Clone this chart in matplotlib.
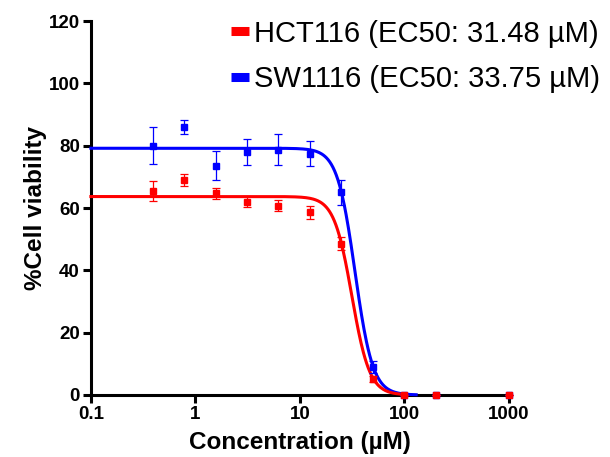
import numpy as np
import matplotlib
matplotlib.use("Agg")
import matplotlib.pyplot as plt
from matplotlib.lines import Line2D

plt.rcParams['font.family'] = ['Liberation Sans', 'DejaVu Sans']

# concentrations (uM)
conc = [0.39, 0.78, 1.56, 3.125, 6.25, 12.5, 25, 50, 100, 200, 1000]

# HCT116
hct_mean = [65.5, 69.0, 64.7, 62.0, 60.8, 58.6, 48.6, 5.1, 0, 0, 0]
hct_err = [3.2, 2.0, 1.8, 1.8, 1.8, 2.2, 2.0, 1.0, 0, 0, 0]
hct_fit = {"top": 63.7, "bottom": 0.0, "ec50": 31.48, "hill": 5.1}

# SW1116
sw_mean = [80.0, 86.1, 73.6, 78.0, 78.8, 77.4, 65.0, 9.0, 0, 0, 0]
sw_err = [6.0, 2.3, 4.6, 4.2, 5.0, 4.0, 4.0, 2.0, 0, 0, 0]
sw_fit = {"top": 79.2, "bottom": 0.0, "ec50": 33.75, "hill": 5.1}

labels = ["HCT116 (EC50: 31.48 \u00b5M)", "SW1116 (EC50: 33.75 \u00b5M)"]
RED = "#ff0000"
BLUE = "#0000ff"


def hill(x, p):
    return p["bottom"] + (p["top"] - p["bottom"]) / (1 + (x / p["ec50"]) ** p["hill"])


fig = plt.figure(figsize=(6.1, 4.57), dpi=100)
ax = fig.add_axes([0.149, 0.1357, 0.685, 0.818])

# fitted curves
xs_blue = np.logspace(-1, np.log10(130), 400)
xs_red = np.logspace(-1, 2, 400)
ax.plot(xs_blue, hill(xs_blue, sw_fit), color=BLUE, lw=2.2, zorder=3, clip_on=False)
ax.plot(xs_red, hill(xs_red, hct_fit), color=RED, lw=2.2, zorder=4, clip_on=False)

# data points
ax.errorbar(conc, sw_mean, yerr=sw_err, fmt='s', color=BLUE, ms=4.5, capsize=3,
            elinewidth=0.9, capthick=0.9, zorder=5, clip_on=False)
ax.errorbar(conc, hct_mean, yerr=hct_err, fmt='s', color=RED, ms=4.5, capsize=3,
            elinewidth=0.9, capthick=0.9, zorder=6, clip_on=False)

ax.set_xscale('log')
ax.set_xlim(0.1, 1000)
ax.set_ylim(0, 120)
ax.set_xticks([0.1, 1, 10, 100, 1000])
ax.set_xticklabels(["0.1", "1", "10", "100", "1000"])
ax.set_yticks([0, 20, 40, 60, 80, 100, 120])
ax.minorticks_off()

for s in ['top', 'right']:
    ax.spines[s].set_visible(False)
for s in ['left', 'bottom']:
    ax.spines[s].set_linewidth(2.2)

ax.tick_params(axis='both', direction='out', length=6, width=2.2, labelsize=13.5, pad=2)
for t in ax.get_xticklabels() + ax.get_yticklabels():
    t.set_fontweight('bold')

ax.set_xlabel("Concentration (\u00b5M)", fontsize=17.5, fontweight='bold', labelpad=5.5)
ax.set_ylabel("%Cell viability", fontsize=17.5, fontweight='bold', labelpad=1)

handles = [Line2D([0], [0], color=RED, lw=6.5, solid_capstyle='butt'),
           Line2D([0], [0], color=BLUE, lw=6.5, solid_capstyle='butt')]
fig.legend(handles, labels, loc='upper right', bbox_to_anchor=(0.984, 0.957),
           frameon=False, fontsize=21, handlelength=0.62, handletextpad=0.17,
           labelspacing=0.6, borderaxespad=0, borderpad=0)

fig.savefig("out.png", dpi=100)
